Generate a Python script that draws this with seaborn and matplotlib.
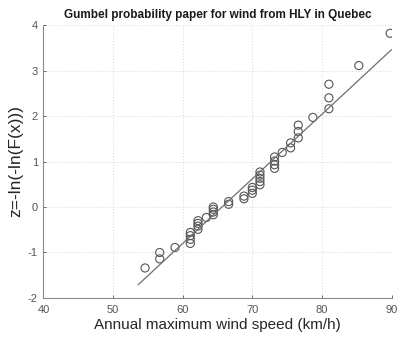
import matplotlib
matplotlib.use("Agg")
import matplotlib.pyplot as plt
import seaborn as sns
import pandas as pd

# Annual maximum wind speeds (km/h), sorted
wind_speed = [54.6, 56.7, 56.7, 58.9,
              61.1, 61.1, 61.1, 61.1,
              62.2, 62.2, 62.2, 62.2,
              63.4,
              64.4, 64.4, 64.4, 64.4,
              66.6, 66.6,
              68.8, 68.8,
              70.0, 70.0, 70.0,
              71.1, 71.1, 71.1, 71.1, 71.1,
              73.2, 73.2, 73.2, 73.2,
              74.3,
              75.5, 75.5,
              76.6, 76.6, 76.6,
              78.7,
              81.0, 81.0, 81.0,
              85.3, 89.8]
# Reduced variate z = -ln(-ln(F))
z_values = [-1.34, -1.14, -1.00, -0.89,
            -0.80, -0.71, -0.63, -0.56,
            -0.49, -0.42, -0.36, -0.30,
            -0.23,
            -0.17, -0.11, -0.05, 0.00,
            0.06, 0.12,
            0.18, 0.24,
            0.30, 0.37, 0.43,
            0.49, 0.56, 0.63, 0.70, 0.77,
            0.85, 0.93, 1.01, 1.10,
            1.20,
            1.30, 1.41,
            1.52, 1.66, 1.80,
            1.97,
            2.16, 2.40, 2.70,
            3.11, 3.82]
# Fitted Gumbel line endpoints
fit_x = [53.6, 90.0]
fit_z = [-1.71, 3.46]

x_ticks = [40, 50, 60, 70, 80, 90]
y_ticks = [-2, -1, 0, 1, 2, 3, 4]

sns.set_theme(style="white")
plt.rcParams['font.family'] = ['Liberation Sans', 'DejaVu Sans']
plt.rcParams['axes.unicode_minus'] = False

df = pd.DataFrame({"x": wind_speed, "z": z_values})
fit_df = pd.DataFrame({"x": fit_x, "z": fit_z})

fig = plt.figure(figsize=(4.02, 3.39), dpi=100)
ax = fig.add_axes([0.108, 0.121, 0.866, 0.805])

sns.lineplot(data=fit_df, x="x", y="z", ax=ax, color="#6e6e6e", linewidth=0.9)
sns.scatterplot(data=df, x="x", y="z", ax=ax, marker="o", s=34,
                facecolors="none", edgecolor="#555555", linewidth=0.8)

ax.set_xlim(40, 90)
ax.set_ylim(-2, 4)
ax.set_xticks(x_ticks)
ax.set_yticks(y_ticks)
ax.grid(True, color="#dcdcdc", linestyle=":", linewidth=0.8)
ax.set_axisbelow(True)

for s in ["top", "right"]:
    ax.spines[s].set_visible(False)
for s in ["left", "bottom"]:
    ax.spines[s].set_color("#8a8a8a")
    ax.spines[s].set_linewidth(0.8)

ax.tick_params(axis="both", labelsize=8, colors="#555555", length=2.5,
               width=0.6, direction="in", left=True, bottom=True)
ax.tick_params(axis="x", pad=5)
ax.tick_params(axis="y", pad=4)

ax.set_xlabel("Annual maximum wind speed (km/h)", fontsize=11, color="#262626", labelpad=2)
ax.set_ylabel("z=-ln(-ln(F(x)))", fontsize=12.5, color="#262626", labelpad=3)
ax.set_title("Gumbel probability paper for wind from HLY in Quebec",
             fontsize=8.5, fontweight="bold", color="#1a1a1a", pad=5)

fig.savefig("out.png", dpi=100)
